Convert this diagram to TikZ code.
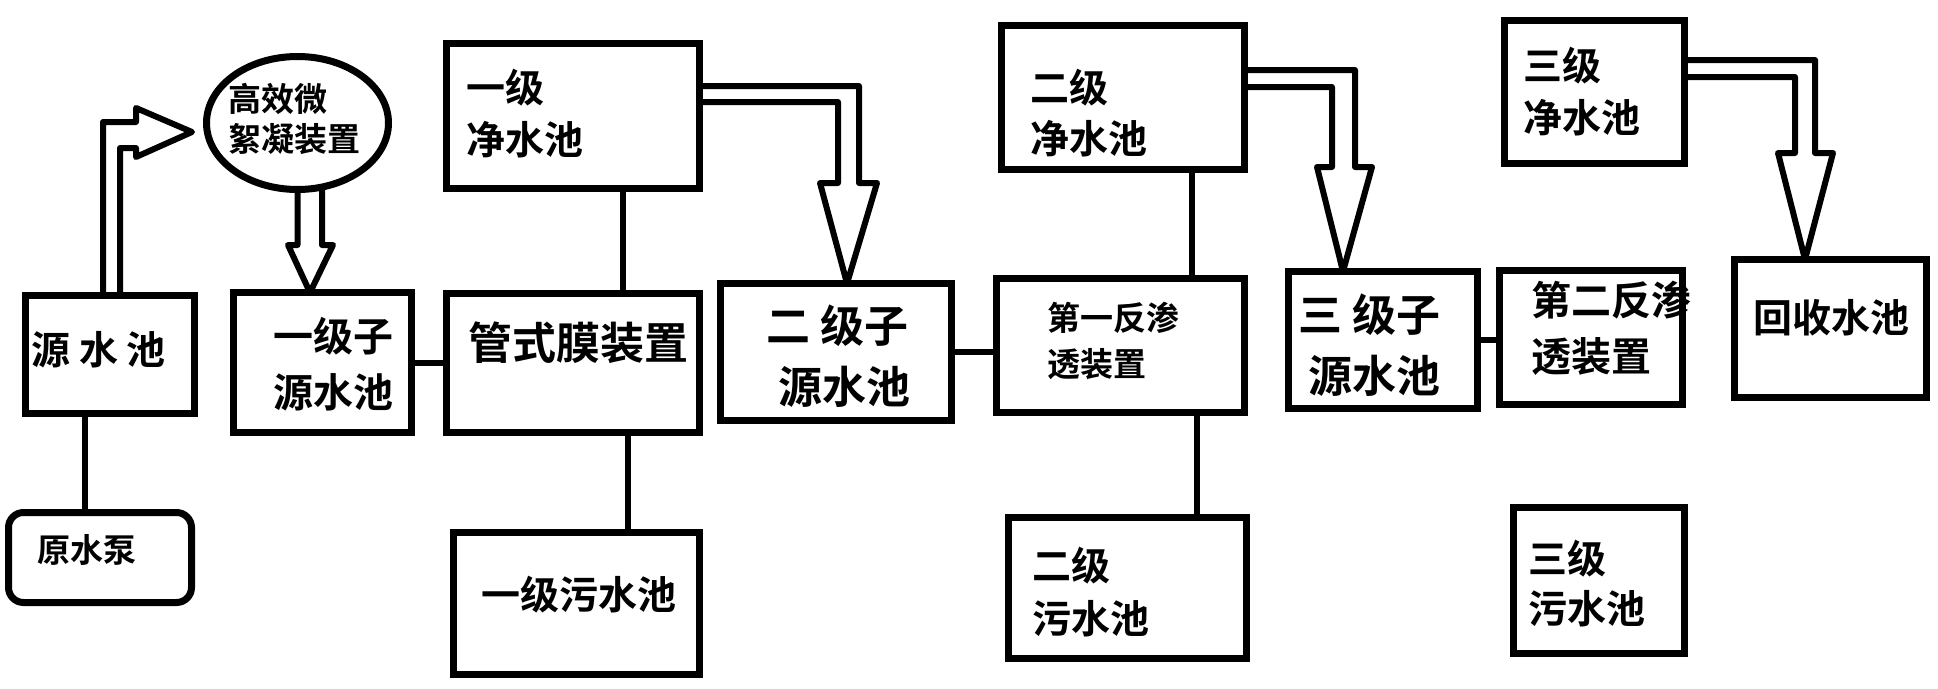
\documentclass[tikz,border=0pt]{standalone}
\usepackage{fontspec}
\newfontfamily\cjk{Noto Sans CJK SC}[BoldFont={Noto Sans CJK SC Bold}]
\usetikzlibrary{shapes.geometric}
\tikzset{
  pool/.style={draw, line width=7pt, inner sep=0pt, outer sep=0pt},
  link/.style={line width=6pt},
  pipe/.style={line width=6pt, line join=round},
  lbl/.style={anchor=west, inner sep=0pt, align=left, font=\cjk\bfseries\fontsize{#1}{#1}\selectfont},
  lbl/.default=39
}
\begin{document}
\begin{tikzpicture}[x=1pt,y=-1pt]
        \useasboundingbox (0,0) rectangle (1938,688);

        \node (yuan) at (110,354.5) [pool, minimum width=169pt, minimum height=118pt] {};
        \node (pump) at (100,557.5) [pool, rounded corners=15pt, minimum width=183pt, minimum height=90pt] {};
        \node (floc) at (297.5,123) [pool, ellipse, minimum width=182pt, minimum height=133pt] {};
        \node (sub1) at (322.5,362.5) [pool, minimum width=178pt, minimum height=140pt] {};
        \node (clean1) at (573,116) [pool, minimum width=253pt, minimum height=145pt] {};
        \node (tube) at (573,363) [pool, minimum width=253pt, minimum height=139pt] {};
        \node (sew1) at (576.5,603.5) [pool, minimum width=246pt, minimum height=142pt] {};
        \node (sub2) at (836,352) [pool, minimum width=231pt, minimum height=137pt] {};
        \node (clean2) at (1123,97.5) [pool, minimum width=243pt, minimum height=144pt] {};
        \node (ro1) at (1120.5,345.5) [pool, minimum width=248pt, minimum height=134pt] {};
        \node (sew2) at (1127.5,588) [pool, minimum width=238pt, minimum height=141pt] {};
        \node (sub3) at (1383,340) [pool, minimum width=189pt, minimum height=137pt] {};
        \node (clean3) at (1594.5,92) [pool, minimum width=180pt, minimum height=143pt] {};
        \node (ro2) at (1591,337.5) [pool, minimum width=183pt, minimum height=134pt] {};
        \node (sew3) at (1599,580.5) [pool, minimum width=171pt, minimum height=146pt] {};
        \node (recov) at (1830.5,328.5) [pool, minimum width=192pt, minimum height=138pt] {};

        \node (yuan-t) at (31,350) [lbl] {源 水 池};
        \node (pump-t) at (37,550) [lbl=33] {原水泵};
        \node (floc-t) at (228,119) [lbl=33] {高效微\\[7pt]絮凝装置};
        \node (sub1-t) at (273,364) [lbl=40] {一级子\\[16pt]源水池};
        \node (clean1-t) at (466,114) [lbl] {一级\\[13pt]净水池};
        \node (tube-t) at (468,343) [lbl=44] {管式膜装置};
        \node (sew1-t) at (481,595) [lbl] {一级污水池};
        \node (sub2-t) at (766,356) [lbl=44] {二 级子\\[17pt]\hspace{12pt}源水池};
        \node (clean2-t) at (1030,113) [lbl] {二级\\[12pt]净水池};
        \node (ro1-t) at (1047,341) [lbl=33] {第一反渗\\[13pt]透装置};
        \node (sew2-t) at (1032,592) [lbl] {二级\\[14pt]污水池};
        \node (sub3-t) at (1298,345) [lbl=44] {三 级子\\[17pt]\hspace{10pt}源水池};
        \node (clean3-t) at (1523,92) [lbl] {三级\\[13pt]净水池};
        \node (ro2-t) at (1531,328) [lbl=40] {第二反渗\\[16pt]透装置};
        \node (sew3-t) at (1528,584) [lbl] {三级\\[11pt]污水池};
        \node (recov-t) at (1753,318) [lbl] {回收水池};

        \draw[link] ([xshift=-25pt]yuan.south) -- ([xshift=-15pt]pump.north);
        \draw[link] (sub1.east) -- (sub1.east -| tube.west);
        \draw[link] ([xshift=50pt]clean1.south) -- ([xshift=50pt]tube.north);
        \draw[link] ([xshift=55pt]tube.south) -- ([xshift=51.5pt]sew1.north);
        \draw[link] (sub2.east) -- (sub2.east -| ro1.west);
        \draw[link] ([xshift=69pt]clean2.south) -- ([xshift=71.5pt]ro1.north);
        \draw[link] ([xshift=76.5pt]ro1.south) -- ([xshift=69.5pt]sew2.north);
        \draw[link] (sub3.east) -- (sub3.east -| ro2.west);

        \draw[pipe] ([xshift=-7pt]yuan.north) -- (103,122) -- (136,122) -- (136,108)
        -- (192,132) -- (136,157) -- (136,148) -- (120,148) -- ([xshift=10pt]yuan.north);
        \draw[pipe] (floc.south) -- (297.5,245) -- (288,245) -- ([xshift=-12.5pt]sub1.north)
        -- (333,245) -- (322,245) -- ([xshift=24.5pt]floc.south);
        \draw[pipe] ([yshift=30pt]clean1.east) -- (859,86) -- (859,183) -- (877,183)
        -- ([xshift=11pt]sub2.north) -- (820,183) -- (838,183) -- (838,102) -- ([yshift=14pt]clean1.east);
        \draw[pipe] ([yshift=27.5pt]clean2.east) -- (1355,70) -- (1355,167) -- (1372,167)
        -- ([xshift=-40pt]sub3.north) -- (1317,167) -- (1332,167) -- (1332,87) -- ([yshift=10.5pt]clean2.east);
        \draw[pipe] ([yshift=32pt]clean3.east) -- (1815,60) -- (1815,153) -- (1833,153)
        -- ([xshift=-25.5pt]recov.north) -- (1778,153) -- (1795,153) -- (1795,77) -- ([yshift=15pt]clean3.east);
\end{tikzpicture}
\end{document}
